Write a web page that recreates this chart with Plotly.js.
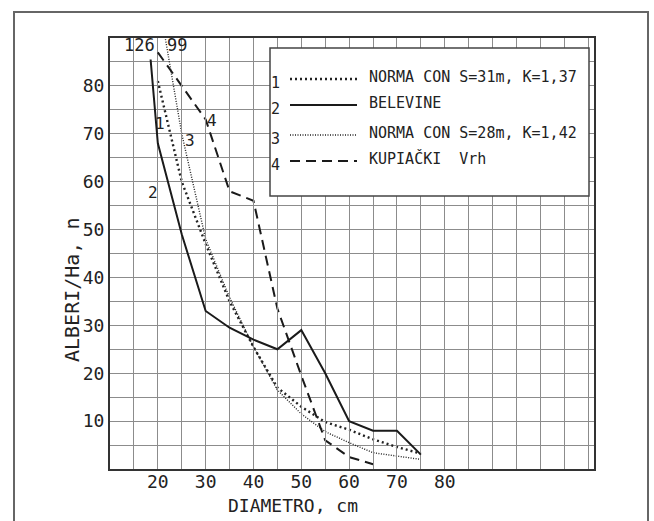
<!DOCTYPE html>
<html>
<head>
<meta charset="utf-8">
<script src="https://cdn.plot.ly/plotly-3.0.1.min.js"></script>
<style>
html,body{margin:0;padding:0;background:#fff;}
#chart{width:654px;height:521px;}
</style>
</head>
<body>
<div id="chart"></div>
<script>
// ---- data ----
const c1X = [20, 25, 30, 35, 40, 45, 50, 55, 60, 65, 70, 75];
const c1Y = [81, 60, 47, 35, 25.5, 17, 13, 9.8, 8.2, 6.2, 4.6, 3.2];

const c2X = [15, 20, 25, 30, 35, 40, 45, 50, 55, 60, 65, 70, 75];
const c2Y = [126, 68, 49, 33, 29.5, 27, 25, 29, 20, 10, 8, 8, 3];

const c3X = [20, 25, 30, 35, 40, 45, 50, 55, 60, 65, 70, 75];
const c3Y = [99, 70, 48, 35.8, 25.5, 16.5, 11.5, 7.8, 5.5, 3.4, 2.7, 2];

const c4X = [20, 25, 30, 35, 40, 45, 50, 55, 60, 65];
const c4Y = [87, 80, 73, 58, 56, 33.5, 19.5, 6, 2.5, 1];

const seriesNames = ["NORMA CON S=31m, K=1,37", "BELEVINE", "NORMA CON S=28m, K=1,42", "KUPIAČKI  Vrh"];
const seriesNums = ["1", "2", "3", "4"];
const offChartLabels = ["126", "99"];

const xTicks = [20, 30, 40, 50, 60, 70, 80];
const yTicks = [10, 20, 30, 40, 50, 60, 70, 80];
const xTitle = "DIAMETRO, cm";
const yTitle = "ALBERI/Ha, n";

// ---- styles ----
const INK = '#222';
const GRID = '#8c8c8c';
const FONT = 'DejaVu Sans Mono';
const styles = [
  {dash: '2px,3px', width: 2.4, color: '#222'},
  {dash: 'solid', width: 2, color: '#1a1a1a'},
  {dash: '1px,1.5px', width: 1.4, color: '#222'},
  {dash: '10px,6px', width: 2, color: '#1a1a1a'}
];

const traces = [
  {x: c1X, y: c1Y, yaxis: 'y'},
  {x: c2X, y: c2Y, yaxis: 'y2'},
  {x: c3X, y: c3Y, yaxis: 'y'},
  {x: c4X, y: c4Y, yaxis: 'y'}
].map((t, i) => ({
  x: t.x, y: t.y, yaxis: t.yaxis, type: 'scatter', mode: 'lines',
  name: seriesNames[i],
  line: {color: styles[i].color, width: styles[i].width, dash: styles[i].dash},
  hoverinfo: 'skip'
}));

// legend (drawn by hand in paper coords)
const L = 110, PW = 484, B = 469, PH = 431;
const px = v => (v - L) / PW;
const py = v => (B - v) / PH;

const shapes = [
  // outer frame of the figure
  {type: 'rect', xref: 'paper', yref: 'paper', x0: px(14), x1: px(648), y0: py(560), y1: py(12),
   line: {color: '#666', width: 2}, layer: 'below'},
  // legend box
  {type: 'rect', xref: 'paper', yref: 'paper', x0: px(270), x1: px(589), y0: py(196), y1: py(48),
   fillcolor: '#fff', line: {color: '#444', width: 1.5}, layer: 'above'}
];
const rowY = [79, 105, 135, 161];
const annotations = [];
rowY.forEach((yy, i) => {
  shapes.push({type: 'line', xref: 'paper', yref: 'paper', x0: px(290), x1: px(357), y0: py(yy), y1: py(yy),
    line: {color: styles[i].color, width: styles[i].width, dash: styles[i].dash}, layer: 'above'});
  annotations.push({xref: 'paper', yref: 'paper', x: px(275), y: py(yy + 4), text: seriesNums[i],
    showarrow: false, xanchor: 'center', yanchor: 'middle', font: {family: FONT, size: 15, color: INK}});
  annotations.push({xref: 'paper', yref: 'paper', x: px(367), y: py(yy - 2), text: seriesNames[i],
    showarrow: false, xanchor: 'left', yanchor: 'middle', font: {family: FONT, size: 15, color: INK}});
});

// curve number labels in the plot
const curveLabelPos = [[20.45, 72.1], [19.0, 57.7], [26.7, 68.5], [31.3, 72.7]];
curveLabelPos.forEach((p, i) => {
  annotations.push({xref: 'x', yref: 'y', x: p[0], y: p[1], text: seriesNums[i], showarrow: false,
    xanchor: 'center', yanchor: 'middle', font: {family: FONT, size: 16, color: INK}});
});
// off-chart values
annotations.push({xref: 'x', yref: 'y', x: 16.1, y: 88.6, text: offChartLabels[0], showarrow: false,
  xanchor: 'center', yanchor: 'middle', font: {family: FONT, size: 17, color: INK}});
annotations.push({xref: 'x', yref: 'y', x: 24.0, y: 88.6, text: offChartLabels[1], showarrow: false,
  xanchor: 'center', yanchor: 'middle', font: {family: FONT, size: 17, color: INK}});
// axis titles
annotations.push({xref: 'paper', yref: 'paper', x: px(293), y: py(505), text: xTitle, showarrow: false,
  xanchor: 'center', yanchor: 'middle', font: {family: FONT, size: 18, color: INK}});
annotations.push({xref: 'paper', yref: 'paper', x: px(72), y: py(290), text: yTitle, showarrow: false,
  textangle: -90, xanchor: 'center', yanchor: 'middle', font: {family: FONT, size: 20, color: INK}});

const gridCommon = {showgrid: true, gridcolor: GRID, gridwidth: 1};
const layout = {
  width: 654, height: 521,
  margin: {l: 110, r: 60, t: 38, b: 52, pad: 0},
  paper_bgcolor: '#fff', plot_bgcolor: 'rgba(0,0,0,0)',
  showlegend: false,
  font: {family: FONT, color: INK, size: 16},
  xaxis: Object.assign({
    range: [10, 111.2], tickmode: 'array', tickvals: xTicks, ticktext: xTicks.map(String),
    minor: {tickmode: 'linear', tick0: 10, dtick: 5, showgrid: true, gridcolor: GRID, gridwidth: 1, ticks: ''},
    showline: true, linecolor: '#333', linewidth: 2, mirror: true, zeroline: false, ticks: '',
    tickfont: {family: FONT, size: 18, color: INK}, ticklabelstandoff: -5, fixedrange: true
  }, gridCommon),
  yaxis: Object.assign({
    range: [0, 90], tickmode: 'array', tickvals: yTicks, ticktext: yTicks.map(String),
    minor: {tickmode: 'linear', tick0: 0, dtick: 5, showgrid: true, gridcolor: GRID, gridwidth: 1, ticks: ''},
    showline: true, linecolor: '#333', linewidth: 2, mirror: true, zeroline: false, ticks: '',
    tickfont: {family: FONT, size: 18, color: INK}, ticklabelstandoff: 0, fixedrange: true
  }, gridCommon),
  yaxis2: {domain: [0, 85.5 / 90], range: [0, 85.5], anchor: 'x', visible: false,
    showgrid: false, zeroline: false, fixedrange: true},
  shapes: shapes,
  annotations: annotations
};

Plotly.newPlot('chart', traces, layout, {displayModeBar: false, staticPlot: true});
</script>
</body>
</html>
